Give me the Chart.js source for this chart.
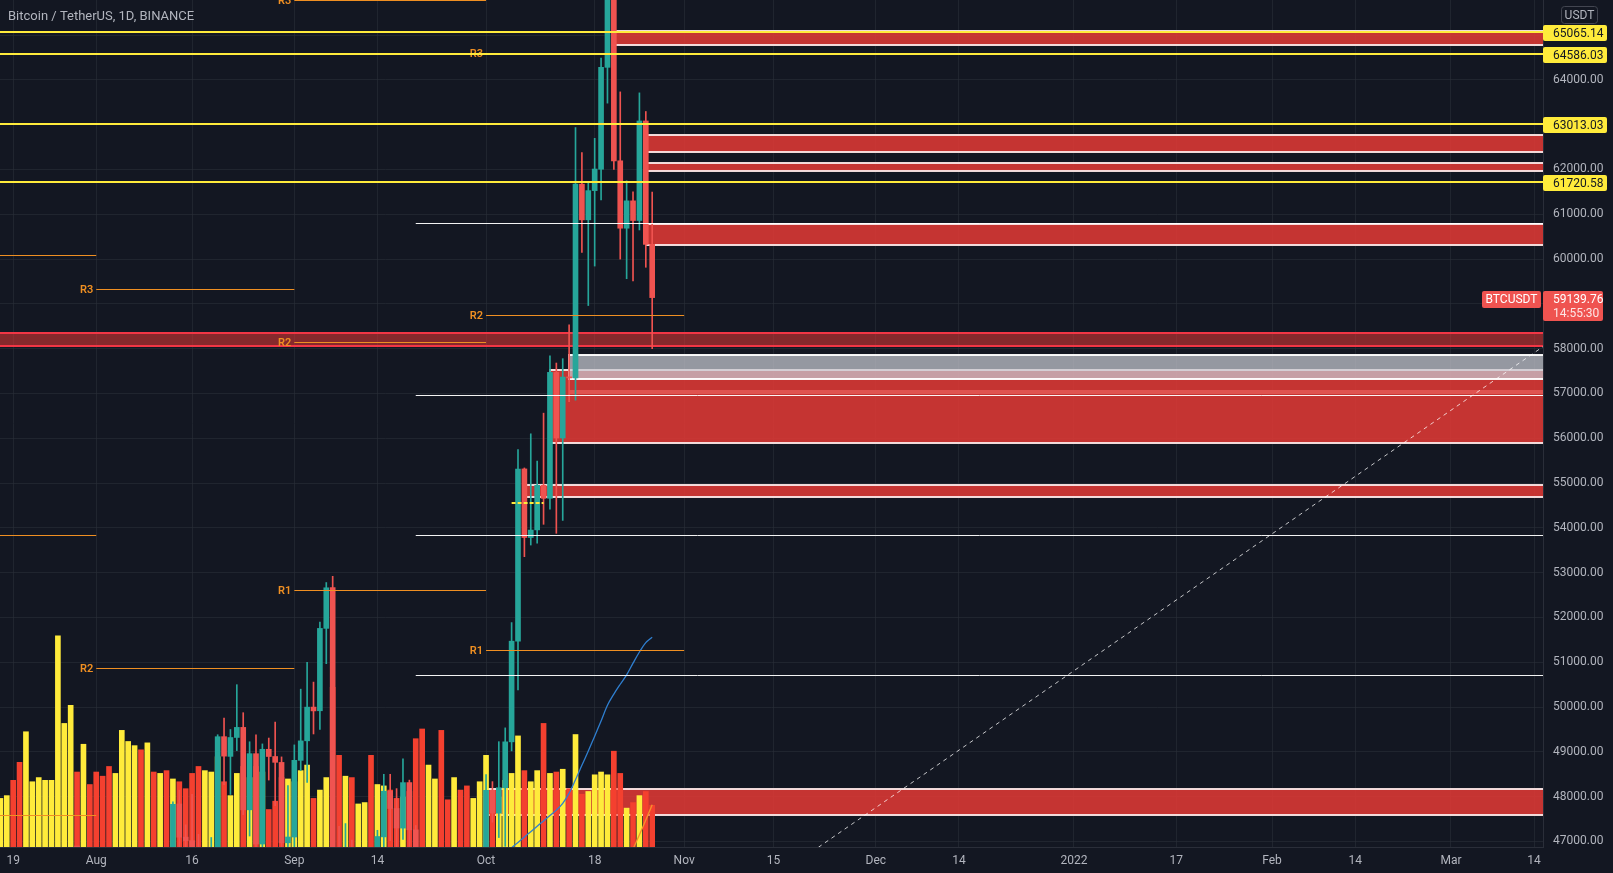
<!DOCTYPE html>
<html>
<head>
<meta charset="utf-8">
<title>Bitcoin / TetherUS, 1D, BINANCE</title>
<script src="https://cdn.jsdelivr.net/npm/chart.js@4.4.1/dist/chart.umd.min.js"></script>
<style>
  html, body { margin: 0; padding: 0; background: #131722; }
  #wrap { position: relative; width: 1613px; height: 873px; }
</style>
</head>
<body>
<div id="wrap"><canvas id="btcChart"></canvas></div>
<script>
// ---- data ----
const firstCandle = '2021-07-17';
const open = [31383,31520,31778,30839,29790,32144,32287,33634,34262,35381,37237,39456,40019,40018,42207,
  41461,39850,39146,38208,39744,40865,42832,44614,43794,46280,45543,45883,44400,47837,47097,47019,45936,44686,44742,46763,49340,48900,49322,49547,47707,48960,46943,49058,48897,48765,46971,
  47100,48811,49247,50000,49918,51757,52666,46868,46048,46396,44842,45173,46026,44943,47103,48121,47737,47299,48315,47261,43012,40693,43574,44896,42839,42717,43208,42235,41034,41564,
  43820,48142,47632,48200,49224,51472,55316,53785,53955,54949,54660,57471,56006,57370,57347,61672,60876,61528,62005,64280,66001,62194,60689,61300,60861,63083,60329];
const high = [31955,32435,31899,31063,32858,32591,33650,34500,35398,40550,39542,40900,40640,42316,42448,
  42599,40480,39780,39969,41350,43392,44700,45310,46454,46700,46743,46218,47886,48144,47372,48053,47160,46000,47089,49383,49757,49500,50500,49875,49226,49380,49178,49309,49666,48888,48246,
  49156,50400,51000,50558,51900,52780,52920,47340,47400,47031,45987,46460,46876,47250,48500,48500,48180,48843,48370,47358,43639,44000,44978,45200,42971,43950,44350,42787,42590,44141,
  48495,48336,49228,49536,51886,55750,55338,56100,55489,56561,57839,57680,57777,58532,62933,62378,61718,62695,64486,67000,66639,63732,61747,61500,63710,63294,61496];
const low = [31164,31108,30407,29278,29482,31708,31924,33401,33851,35205,36383,38772,39200,38313,41000,
  39422,38690,37642,37508,37332,39853,42446,43261,42779,44936,45341,43770,44217,45971,45500,45660,44376,44203,43955,46630,48270,48050,49029,47600,47122,46300,46364,48371,47800,46853,46700,
  46513,48584,48316,49400,49500,50969,42843,44412,45514,44132,44723,44743,43370,44750,46700,47020,46750,47045,46850,42500,39600,40565,43069,40675,41646,40750,42098,40888,40753,41410,
  43283,47430,47088,46891,49022,50382,53357,53617,53661,54080,54415,53879,54167,56818,56850,60150,58963,59844,61322,63481,62000,60000,59562,59510,60650,59817,58000];
const close = [31520,31778,30839,29790,32144,32287,33634,34258,35381,37237,39457,40019,40016,42206,41461,
  39846,39147,38207,39723,40862,42836,44614,43792,46285,45543,45881,44412,47832,47096,47019,45937,44687,44742,46764,49339,48905,49321,49547,47706,48960,46942,49058,48897,48767,46970,47100,
  48811,49246,49999,49915,51756,52663,46863,46048,46395,44851,45174,46026,44941,47111,48122,47737,47300,48314,47261,43012,40694,43575,44896,42839,42717,43208,42235,41034,41564,43790,
  48141,47634,48200,49224,51471,55315,53785,53951,54950,54659,57471,56005,57367,57347,61672,60875,61528,62010,64280,66002,62193,60689,61300,60861,63083,60328,59140];
// volume, thousand BTC
const volume = [35,37,48,61,83,47,50,48,48,152,89,102,54,74,45,
  54,51,58,53,84,76,73,70,75,54,53,55,49,47,42,53,58,55,54,65,47,37,53,58,50,58,54,27,33,50,49,
  47,55,59,35,41,50,115,66,51,50,31,32,66,45,44,41,35,36,40,78,85,59,49,84,34,50,41,44,35,47,
  66,40,36,48,53,80,55,47,55,89,53,54,56,42,81,38,40,52,54,52,69,53,28,32,37,40,30];

const maBlueStart = '2021-10-03';
const maBlue = [46620,46740,46860,46980,47100,47220,47340,47460,47580,47700,47850,48080,48380,48700,49020,49350,49690,50040,50290,50510,50720,50980,51230,51440,51560];
const maOrangeStart = '2021-10-23';
const maOrange = [46500,46830,47150,47480,47820];

const trendDates = ['2021-11-22', '2022-03-16'];
const trendPrices = [46870, 58104];

const yellowLevels = [65065.14, 64586.03, 63013.03, 61720.58];
const whiteStart = '2021-09-20';
const whiteLevels = [60801, 56967, 53842, 50721];
const shortLine = { from: '2021-10-05', to: '2021-10-10', price: 54550 };

const pivotStarts = ['2021-07-01', '2021-08-01', '2021-09-01', '2021-10-01'];
const pivotEnds   = ['2021-08-01', '2021-09-01', '2021-10-01', '2021-11-01'];
const pivotR1 = [41315, 46180, 52622, 51274];
const pivotR2 = [47597, 50880, 58145, 58757];
const pivotR3 = [53843, 59335, 65790, 64594];
const pivotR4 = [60090, null, null, null];

const zoneStart  = ['2021-06-01', '2021-10-11', '2021-10-14', '2021-10-14', '2021-10-07', '2021-10-01', '2021-10-21', '2021-10-26', '2021-10-26', '2021-10-26'];
const zoneTop    = [58344, 57520, 57080, 57860, 54958, 48165, 65100, 62766, 62138, 60783];
const zoneBottom = [58060, 55888, 56985, 57320, 54696, 47592, 64780, 62397, 61973, 60315];
const zoneKind   = ['dark', 'red', 'band', 'gray', 'red', 'red', 'red', 'red', 'red', 'red'];

const priceTicks = [47000,48000,49000,50000,51000,52000,53000,54000,55000,56000,57000,58000,59000,60000,61000,62000,63000,64000,65000];
const tickDates = ['2021-07-19','2021-08-01','2021-08-16','2021-09-01','2021-09-14','2021-10-01','2021-10-18','2021-11-01','2021-11-15','2021-12-01','2021-12-14','2022-01-01','2022-01-17','2022-02-01','2022-02-14','2022-03-01','2022-03-14'];
const tickLabels = ['19','Aug','16','Sep','14','Oct','18','Nov','15','Dec','14','2022','17','Feb','14','Mar','14'];

const lastPrice = 59139.76;
const countdown = '14:55:30';

// ---- helpers ----
const ORIGIN = Date.UTC(2021, 9, 1);
function dayOf(s) {
  const p = s.split('-');
  return (Date.UTC(+p[0], +p[1] - 1, +p[2]) - ORIGIN) / 86400000;
}
const FONT = 'Roboto, "Liberation Sans", sans-serif';
const GRID = 'rgba(42,46,57,0.6)';
const TEAL = '#26a69a', RED = '#ef5350';
const VOL_UP = '#ffeb3b', VOL_DOWN = '#f4402f';
const PIVOT = '#ef8f22';

const d0 = dayOf(firstCandle);
const bodies = [], wicks = [], vols = [], candleCol = [], volCol = [];
open.forEach((o, i) => {
  const up = close[i] >= o;
  bodies.push({ x: d0 + i, y: [o, close[i]] });
  wicks.push({ x: d0 + i, y: [low[i], high[i]] });
  vols.push({ x: d0 + i, y: volume[i] });
  candleCol.push(up ? TEAL : RED);
  volCol.push(up ? VOL_UP : VOL_DOWN);
});
const blueLine = maBlue.map((v, i) => ({ x: dayOf(maBlueStart) + i, y: v }));
const orangeLine = maOrange.map((v, i) => ({ x: dayOf(maOrangeStart) + i, y: v }));
const trend = trendDates.map((d, i) => ({ x: dayOf(d), y: trendPrices[i] }));

const ZONE_STYLE = {
  red:  { fill: 'rgba(229,57,53,0.85)', border: 'rgba(250,228,228,0.95)', width: 2, left: true },
  band: { fill: 'rgba(245,110,105,0.55)' },
  gray: { fill: 'rgba(200,202,210,0.72)', border: 'rgba(255,255,255,0.95)', width: 2, left: true },
  dark: { fill: 'rgba(229,57,53,0.55)', border: '#f23645', width: 2, left: false }
};

function hline(ctx, x0, x1, yy, color, w, dash) {
  ctx.save();
  ctx.strokeStyle = color;
  ctx.lineWidth = w;
  ctx.setLineDash(dash || []);
  ctx.beginPath();
  const yp = w % 2 ? Math.round(yy) + 0.5 : Math.round(yy);
  ctx.moveTo(x0, yp);
  ctx.lineTo(x1, yp);
  ctx.stroke();
  ctx.restore();
}

function box(ctx, x, y, w, h, fill) {
  ctx.fillStyle = fill;
  ctx.beginPath();
  ctx.roundRect(x, y, w, h, 2);
  ctx.fill();
}

const drawings = {
  id: 'drawings',
  beforeDatasetsDraw(chart) {
    const { ctx, chartArea: a, scales: { x, y } } = chart;
    ctx.save();
    ctx.beginPath();
    ctx.rect(a.left, a.top, a.right - a.left, a.bottom - a.top);
    ctx.clip();
    zoneStart.forEach((s, i) => {
      const st = ZONE_STYLE[zoneKind[i]];
      const x0 = Math.max(Math.round(x.getPixelForValue(dayOf(s))), a.left - 5);
      const y0 = Math.round(y.getPixelForValue(zoneTop[i]));
      const y1 = Math.round(y.getPixelForValue(zoneBottom[i]));
      ctx.fillStyle = st.fill;
      ctx.fillRect(x0, y0, a.right - x0, y1 - y0);
      if (st.border) {
        ctx.strokeStyle = st.border;
        ctx.lineWidth = st.width;
        ctx.beginPath();
        ctx.moveTo(a.right, y0);
        ctx.lineTo(x0, y0);
        if (st.left) ctx.lineTo(x0, y1); else ctx.moveTo(x0, y1);
        ctx.lineTo(a.right, y1);
        ctx.stroke();
      }
    });
    ctx.restore();
  },
  afterDatasetsDraw(chart) {
    const { ctx, chartArea: a, scales: { x, y } } = chart;
    ctx.save();
    ctx.beginPath();
    ctx.rect(a.left, a.top - 10, a.right - a.left, a.bottom - a.top + 10);
    ctx.clip();

    // monthly pivots
    const levels = [['R1', pivotR1], ['R2', pivotR2], ['R3', pivotR3], ['R4', pivotR4]];
    ctx.font = '600 11px ' + FONT;
    ctx.textAlign = 'right';
    ctx.textBaseline = 'middle';
    levels.forEach(([name, vals]) => {
      vals.forEach((v, i) => {
        if (v == null) return;
        const x0 = x.getPixelForValue(dayOf(pivotStarts[i]));
        const x1 = x.getPixelForValue(dayOf(pivotEnds[i]));
        const yy = y.getPixelForValue(v);
        hline(ctx, x0, x1, yy, PIVOT, 1);
        ctx.fillStyle = PIVOT;
        ctx.fillText(name, x0 - 3, Math.round(yy) + 1);
      });
    });

    whiteLevels.forEach(v => {
      hline(ctx, x.getPixelForValue(dayOf(whiteStart)), a.right, y.getPixelForValue(v), 'rgba(255,255,255,0.95)', 1);
    });
    yellowLevels.forEach(v => {
      hline(ctx, a.left, a.right, y.getPixelForValue(v), '#ffeb3b', 2);
    });
    hline(ctx, x.getPixelForValue(dayOf(shortLine.from)), x.getPixelForValue(dayOf(shortLine.to)),
      y.getPixelForValue(shortLine.price), '#ffeb3b', 2, [4, 2]);
    ctx.restore();
  },
  afterDraw(chart) {
    const { ctx, chartArea: a, scales: { y } } = chart;
    ctx.save();
    // title
    ctx.font = '13px ' + FONT;
    ctx.fillStyle = '#b2b5be';
    ctx.textAlign = 'left';
    ctx.textBaseline = 'middle';
    ctx.fillText('Bitcoin / TetherUS, 1D, BINANCE', 8, 17);

    // currency box
    ctx.strokeStyle = '#434651';
    ctx.lineWidth = 1;
    ctx.beginPath();
    ctx.roundRect(1561.5, 6.5, 36, 17, 3);
    ctx.stroke();
    ctx.font = '12px ' + FONT;
    ctx.textAlign = 'center';
    ctx.fillText('USDT', 1579.5, 15.5);

    // level labels on the price scale
    ctx.textAlign = 'left';
    yellowLevels.forEach(v => {
      const yy = Math.round(y.getPixelForValue(v));
      box(ctx, a.right, yy - 7, 64, 16, '#ffeb3b');
      ctx.fillStyle = '#131722';
      ctx.fillText(v.toFixed(2), a.right + 10, yy + 1.5);
    });

    // last price
    const py = Math.round(y.getPixelForValue(lastPrice));
    box(ctx, a.right, py - 7, 60, 30, '#ef5350');
    ctx.fillStyle = '#ffffff';
    ctx.fillText(lastPrice.toFixed(2), a.right + 10, py + 1.5);
    ctx.fillStyle = 'rgba(255,255,255,0.85)';
    ctx.fillText(countdown, a.right + 10, py + 15.5);
    box(ctx, a.right - 61, py - 7, 59, 17, '#ef5350');
    ctx.fillStyle = '#ffffff';
    ctx.textAlign = 'center';
    ctx.fillText('BTCUSDT', a.right - 31.5, py + 1.5);
    ctx.restore();
  }
};

new Chart(document.getElementById('btcChart'), {
  type: 'bar',
  data: {
    datasets: [
      { type: 'line', data: trend, borderColor: 'rgba(255,255,255,0.75)', borderWidth: 1, borderDash: [4, 4], pointRadius: 0, order: 1 },
      { type: 'line', data: blueLine, borderColor: '#2f7fd0', borderWidth: 1.3, pointRadius: 0, tension: 0.35, order: 2 },
      { type: 'line', data: orangeLine, borderColor: '#f5922b', borderWidth: 1.3, pointRadius: 0, tension: 0.35, order: 2 },
      { data: bodies, backgroundColor: candleCol, barThickness: 5, minBarLength: 1, grouped: false, order: 3 },
      { data: wicks, backgroundColor: candleCol, barThickness: 1, grouped: false, order: 4 },
      { data: vols, yAxisID: 'yv', backgroundColor: volCol, barThickness: 5, grouped: false, order: 5 }
    ]
  },
  options: {
    responsive: true,
    maintainAspectRatio: false,
    animation: false,
    events: [],
    layout: { padding: 0 },
    plugins: { legend: { display: false }, tooltip: { enabled: false } },
    scales: {
      x: {
        type: 'linear',
        min: -76.06,
        max: 165.4,
        offset: false,
        afterBuildTicks: s => { s.ticks = tickDates.map(d => ({ value: dayOf(d) })); },
        afterFit: s => { s.height = 26; s.paddingLeft = 0; s.paddingRight = 0; },
        grid: { color: GRID, drawTicks: false, offset: false },
        border: { color: '#2a2e39' },
        ticks: {
          color: '#b2b5be', font: { family: FONT, size: 12 }, padding: 7,
          autoSkip: false, maxRotation: 0,
          callback: (v, i) => tickLabels[i]
        }
      },
      y: {
        type: 'linear',
        position: 'right',
        min: 46877,
        max: 65783,
        afterBuildTicks: s => { s.ticks = priceTicks.map(v => ({ value: v })); },
        afterFit: s => { s.width = 70; s.paddingTop = 0; s.paddingBottom = 0; },
        grid: { color: GRID, drawTicks: false },
        border: { color: '#2a2e39' },
        ticks: {
          color: '#b2b5be', font: { family: FONT, size: 12 }, padding: 10,
          callback: v => v.toFixed(2)
        }
      },
      yv: { type: 'linear', display: false, min: 0, max: 610 }
    }
  },
  plugins: [drawings]
});
</script>
</body>
</html>
